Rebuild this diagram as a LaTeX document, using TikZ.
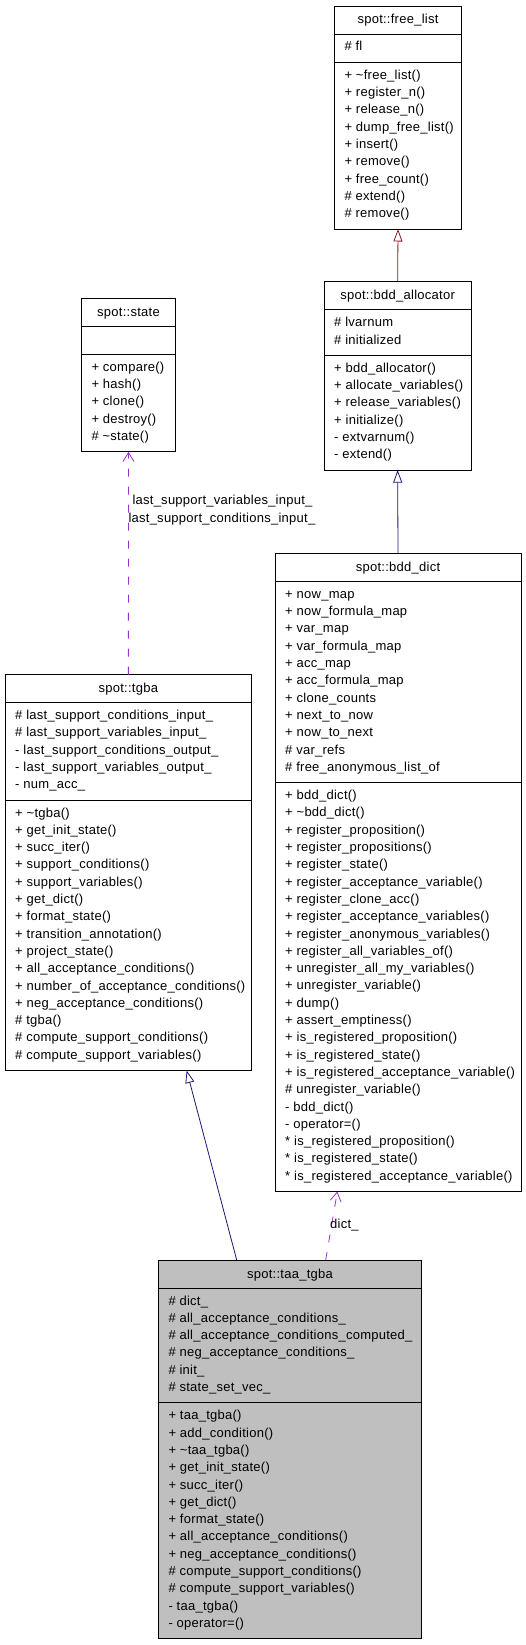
\documentclass[tikz,border=0pt]{standalone}
\usepackage{fontspec}
\setmainfont[LetterSpace=2]{Liberation Sans}
\usetikzlibrary{arrows.meta,calc}
\definecolor{inhpriv}{HTML}{8B1A1A}
\definecolor{inhpub}{HTML}{191970}
\definecolor{usage}{HTML}{9A32CD}
\definecolor{focus}{HTML}{BFBFBF}
\newcommand{\rowh}{17.3}
\tikzset{
  classbox/.style={draw=black, line width=0.9pt, rectangle, anchor=north west, inner sep=0pt, outer sep=0pt},
  sepline/.style={line width=0.9pt},
  classname/.style={anchor=base, inner sep=0pt, font=\fontsize{13}{15}\selectfont},
  member/.style={anchor=base west, inner sep=0pt, font=\fontsize{13}{15}\selectfont},
  rolelabel/.style={anchor=west, inner sep=0pt, font=\fontsize{13}{15}\selectfont},
  inherits/.style={line width=0.8pt, -{Triangle[open, length=12.5pt, width=9pt]}},
  uses/.style={usage, line width=0.8pt, dash pattern=on 8pt off 10pt, -{Straight Barb[length=9pt, width=11pt]}},
}

\begin{document}
\begin{tikzpicture}[x=1pt,y=-1pt]
\useasboundingbox (0,0) rectangle (525,1645);

% spot::free_list
\node[classbox, minimum width=127.4, minimum height=223] (freelist) at (334.3,6) {};
\node[classname] (freelist-t) at (398,24) {spot::free\_list};
\draw[sepline] (334.3,34) -- (461.7,34) (334.3,62.3) -- (461.7,62.3);
\foreach \m [count=\i] in {\# fl}
  \node[member] (fl-a\i) at (344.3,{51+(\i-1)*\rowh}) {\m};
\foreach \m [count=\i] in {+ \textasciitilde free\_list(), + register\_n(), + release\_n(), + dump\_free\_list(), + insert(), + remove(), + free\_count(), \# extend(), \# remove()}
  \node[member] (fl-m\i) at (344.3,{79.3+(\i-1)*\rowh}) {\m};

% spot::bdd_allocator
\node[classbox, minimum width=147.3, minimum height=188.4] (bddalloc) at (324,281.7) {};
\node[classname] (bddalloc-t) at (397.65,299.7) {spot::bdd\_allocator};
\draw[sepline] (324,309.7) -- (471.3,309.7) (324,355.3) -- (471.3,355.3);
\foreach \m [count=\i] in {\# lvarnum, \# initialized}
  \node[member] (ba-a\i) at (334,{326.7+(\i-1)*\rowh}) {\m};
\foreach \m [count=\i] in {+ bdd\_allocator(), + allocate\_variables(), + release\_variables(), + initialize(), - extvarnum(), - extend()}
  \node[member] (ba-m\i) at (334,{372.3+(\i-1)*\rowh}) {\m};

% spot::state
\node[classbox, minimum width=94.4, minimum height=153.8] (state) at (81.3,298) {};
\node[classname] (state-t) at (128.5,316) {spot::state};
\draw[sepline] (81.3,326) -- (175.7,326) (81.3,354.3) -- (175.7,354.3);
\foreach \m [count=\i] in {+ compare(), + hash(), + clone(), + destroy(), \# \textasciitilde state()}
  \node[member] (st-m\i) at (91.3,{371.3+(\i-1)*\rowh}) {\m};

% spot::bdd_dict
\node[classbox, minimum width=246, minimum height=638.2] (bdddict) at (275,553.3) {};
\node[classname] (bdddict-t) at (398,571.3) {spot::bdd\_dict};
\draw[sepline] (275,581.3) -- (521,581.3) (275,782.6) -- (521,782.6);
\foreach \m [count=\i] in {+ now\_map, + now\_formula\_map, + var\_map, + var\_formula\_map, + acc\_map, + acc\_formula\_map, + clone\_counts, + next\_to\_now, + now\_to\_next, \# var\_refs, \# free\_anonymous\_list\_of}
  \node[member] (bd-a\i) at (285,{598.3+(\i-1)*\rowh}) {\m};
\foreach \m [count=\i] in {+ bdd\_dict(), + \textasciitilde bdd\_dict(), + register\_proposition(), + register\_propositions(), + register\_state(), + register\_acceptance\_variable(), + register\_clone\_acc(), + register\_acceptance\_variables(), + register\_anonymous\_variables(), + register\_all\_variables\_of(), + unregister\_all\_my\_variables(), + unregister\_variable(), + dump(), + assert\_emptiness(), + is\_registered\_proposition(), + is\_registered\_state(), + is\_registered\_acceptance\_variable(), \# unregister\_variable(), - bdd\_dict(), - operator=(), * is\_registered\_proposition(), * is\_registered\_state(), * is\_registered\_acceptance\_variable()}
  \node[member] (bd-m\i) at (285,{799.6+(\i-1)*\rowh}) {\m};

% spot::tgba
\node[classbox, minimum width=246.7, minimum height=396] (tgba) at (5,674.5) {};
\node[classname] (tgba-t) at (128.35,692.5) {spot::tgba};
\draw[sepline] (5,702.5) -- (251.7,702.5) (5,800) -- (251.7,800);
\foreach \m [count=\i] in {\# last\_support\_conditions\_input\_, \# last\_support\_variables\_input\_, - last\_support\_conditions\_output\_, - last\_support\_variables\_output\_, - num\_acc\_}
  \node[member] (tg-a\i) at (15,{719.5+(\i-1)*\rowh}) {\m};
\foreach \m [count=\i] in {+ \textasciitilde tgba(), + get\_init\_state(), + succ\_iter(), + support\_conditions(), + support\_variables(), + get\_dict(), + format\_state(), + transition\_annotation(), + project\_state(), + all\_acceptance\_conditions(), + number\_of\_acceptance\_conditions(), + neg\_acceptance\_conditions(), \# tgba(), \# compute\_support\_conditions(), \# compute\_support\_variables()}
  \node[member] (tg-m\i) at (15,{817+(\i-1)*\rowh}) {\m};

% spot::taa_tgba
\node[classbox, fill=focus, minimum width=263.4, minimum height=378.7] (taatgba) at (158.3,1260) {};
\node[classname] (taatgba-t) at (290,1278) {spot::taa\_tgba};
\draw[sepline] (158.3,1288) -- (421.7,1288) (158.3,1402.8) -- (421.7,1402.8);
\foreach \m [count=\i] in {\# dict\_, \# all\_acceptance\_conditions\_, \# all\_acceptance\_conditions\_computed\_, \# neg\_acceptance\_conditions\_, \# init\_, \# state\_set\_vec\_}
  \node[member] (ta-a\i) at (168.3,{1305+(\i-1)*\rowh}) {\m};
\foreach \m [count=\i] in {+ taa\_tgba(), + add\_condition(), + \textasciitilde taa\_tgba(), + get\_init\_state(), + succ\_iter(), + get\_dict(), + format\_state(), + all\_acceptance\_conditions(), + neg\_acceptance\_conditions(), \# compute\_support\_conditions(), \# compute\_support\_variables(), - taa\_tgba(), - operator=()}
  \node[member] (ta-m\i) at (168.3,{1419.8+(\i-1)*\rowh}) {\m};

% inheritance
\draw[inherits, inhpriv] (bddalloc.north) -- (freelist.south);
\draw[inherits, inhpub] (bdddict.north) -- (bddalloc.south);
\draw[inherits, inhpub] ([xshift=-53.3pt]taatgba.north) -- ([xshift=58.3pt]tgba.south);

% usage
\draw[uses] (tgba.north) -- (state.south);
\draw[uses] ([xshift=35.7pt]taatgba.north) -- ([xshift=-60.7pt]bdddict.south);
\node[rolelabel] (lbl-vars) at (132.3,501) {last\_support\_variables\_input\_};
\node[rolelabel] (lbl-conds) at (128.3,519) {last\_support\_conditions\_input\_};
\node[rolelabel] (lbl-dict) at (330,1225) {dict\_};
\end{tikzpicture}
\end{document}
